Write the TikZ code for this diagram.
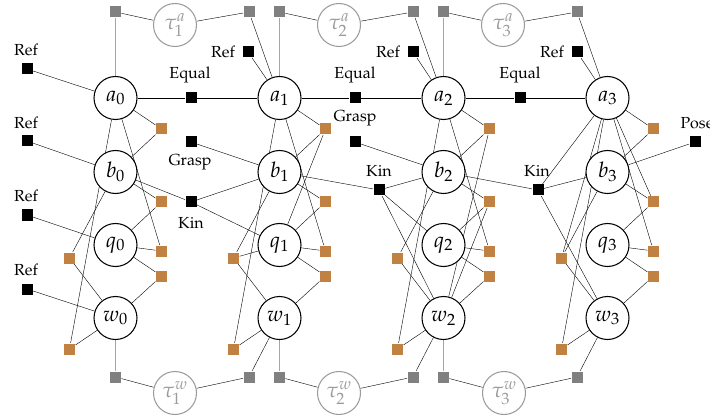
\documentclass[tikz,border=0pt]{standalone}
\usepackage[T1]{fontenc}
\usepackage{mathpazo}
\usetikzlibrary{backgrounds}
\definecolor{fac}{RGB}{193,129,66}
\definecolor{gfac}{RGB}{128,128,128}
\definecolor{taug}{RGB}{155,155,155}
\begin{document}
\begin{tikzpicture}[x=1pt,y=-1pt,line width=1.05pt,
  var/.style={circle,draw,fill=white,minimum size=43pt,inner sep=0pt,font=\fontsize{21.5}{25}\selectfont},
  taun/.style={circle,draw=taug,fill=white,text=taug,minimum size=43pt,inner sep=0pt,font=\fontsize{21.5}{25}\selectfont},
  ofac/.style={rectangle,fill=fac,minimum size=11pt,inner sep=0pt},
  bfac/.style={rectangle,fill=black,minimum size=11pt,inner sep=0pt},
  gsq/.style={rectangle,fill=gfac,minimum size=11pt,inner sep=0pt},
  lbl/.style={inner sep=0pt,font=\fontsize{16}{19}\selectfont}]
\path[use as bounding box] (0,0) rectangle (710,417);

% variables and orange factors
\foreach \k/\X in {0/115.5,1/279.5,2/443.5,3/607.5}{
  \node[var] (a\k) at (\X,98) {$a_\k$};
  \node[var] (b\k) at (\X,172) {$b_\k$};
  \node[var] (q\k) at (\X,245) {$q_\k$};
  \node[var] (w\k) at (\X,318) {$w_\k$};
  \node[ofac] (r1\k) at ({\X+46},129) {};
  \node[ofac] (r2\k) at ({\X+46},202) {};
  \node[ofac] (r3\k) at ({\X+46},251) {};
  \node[ofac] (r4\k) at ({\X+46},276) {};
  \node[ofac] (l1\k) at ({\X-46},258) {};
  \node[ofac] (l2\k) at ({\X-46},349) {};
}

% grey squares
\foreach \i/\X in {0/115.5,1/249,2/279.5,3/413,4/443.5,5/577}{
  \node[gsq] (gt\i) at (\X,12) {};
  \node[gsq] (gb\i) at (\X,377) {};
}
\node[taun] (ta1) at (175,25) {$\tau_1^a$};
\node[taun] (ta2) at (339,25) {$\tau_2^a$};
\node[taun] (ta3) at (503,25) {$\tau_3^a$};
\node[taun] (tw1) at (175,393) {$\tau_1^w$};
\node[taun] (tw2) at (339,393) {$\tau_2^w$};
\node[taun] (tw3) at (504,393) {$\tau_3^w$};

% black factors
\node[bfac] (ra0) at (27,69) {};
\node[bfac] (rb0) at (27,141) {};
\node[bfac] (rq0) at (27,215) {};
\node[bfac] (rw0) at (27,289) {};
\node[bfac] (ref1) at (248,52) {};
\node[bfac] (ref2) at (413,52) {};
\node[bfac] (ref3) at (577,52) {};
\node[bfac] (eq0) at (191,98) {};
\node[bfac] (eq1) at (355,98) {};
\node[bfac] (eq2) at (520,98) {};
\node[bfac] (gr0) at (191,142) {};
\node[bfac] (gr1) at (355,142) {};
\node[bfac] (kin0) at (191,202) {};
\node[bfac] (kin1) at (379,190) {};
\node[bfac] (kin2) at (538,190) {};
\node[bfac] (pose) at (695,142) {};

% labels
\node[lbl] (lra0) at (26,50) {Ref};
\node[lbl] (lrb0) at (26,123) {Ref};
\node[lbl] (lrq0) at (26,196) {Ref};
\node[lbl] (lrw0) at (26,270) {Ref};
\node[lbl] (lref1) at (223,52) {Ref};
\node[lbl] (lref2) at (388,52) {Ref};
\node[lbl] (lref3) at (552,52) {Ref};
\node[lbl] (leq0) at (190,75) {Equal};
\node[lbl] (leq1) at (355,75) {Equal};
\node[lbl] (leq2) at (520,75) {Equal};
\node[lbl] (lgr0) at (190,162) {Grasp};
\node[lbl] (lgr1) at (355,118) {Grasp};
\node[lbl] (lkin0) at (191,223) {Kin};
\node[lbl] (lkin1) at (379,171) {Kin};
\node[lbl] (lkin2) at (537,171) {Kin};
\node[lbl] (lpose) at (697,123) {Pose};

\begin{pgfonlayer}{background}
  \draw (ra0)--(a0) (rb0)--(b0) (rq0)--(q0) (rw0)--(w0);
  \draw (ref1)--(a1) (ref2)--(a2) (ref3)--(a3);
  \draw (a0)--(eq0)--(a1)--(eq1)--(a2)--(eq2)--(a3);
  \draw (gr0)--(b1) (gr1)--(b2);
  \draw (kin0)--(b0) (kin0)--(b1) (kin0)--(q1);
  \draw (kin1)--(b1) (kin1)--(b2) (kin1)--(q2) (kin1)--(w2);
  \draw (kin2)--(b2) (kin2)--(a3) (kin2)--(b3) (kin2)--(w3);
  \draw (pose)--(b3);
  \foreach \f/\v in {r10/a0,r10/b0,r20/b0,r20/q0,r30/a0,r30/q0,r40/q0,r40/w0,l10/b0,l10/w0,l20/a0,l20/w0,
    r11/a1,r11/b1,r11/q1,r21/b1,r21/q1,r31/a1,r31/q1,r41/q1,r41/w1,l11/b1,l11/q1,l11/w1,l21/a1,l21/w1,
    r12/a2,r12/b2,r12/w2,r22/b2,r22/q2,r22/w2,r32/a2,r32/q2,r42/q2,r42/w2,l12/b2,l12/w2,l22/a2,l22/w2,
    r13/a3,r13/b3,r23/a3,r23/b3,r23/q3,r33/a3,r33/q3,r43/q3,r43/w3,l13/a3,l13/b3,l13/w3,l23/a3,l23/w3}
    {\draw (\f)--(\v);}
  \draw (gt0)--(a0) (gt0)--(ta1)--(gt1)--(a1) (gt2)--(a1) (gt2)--(ta2)--(gt3)--(a2)
        (gt4)--(a2) (gt4)--(ta3)--(gt5)--(a3);
  \draw (gb0)--(w0) (gb0)--(tw1)--(gb1)--(w1) (gb2)--(w1) (gb2)--(tw2)--(gb3)--(w2)
        (gb4)--(w2) (gb4)--(tw3)--(gb5)--(w3);
\end{pgfonlayer}
\end{tikzpicture}
\end{document}
